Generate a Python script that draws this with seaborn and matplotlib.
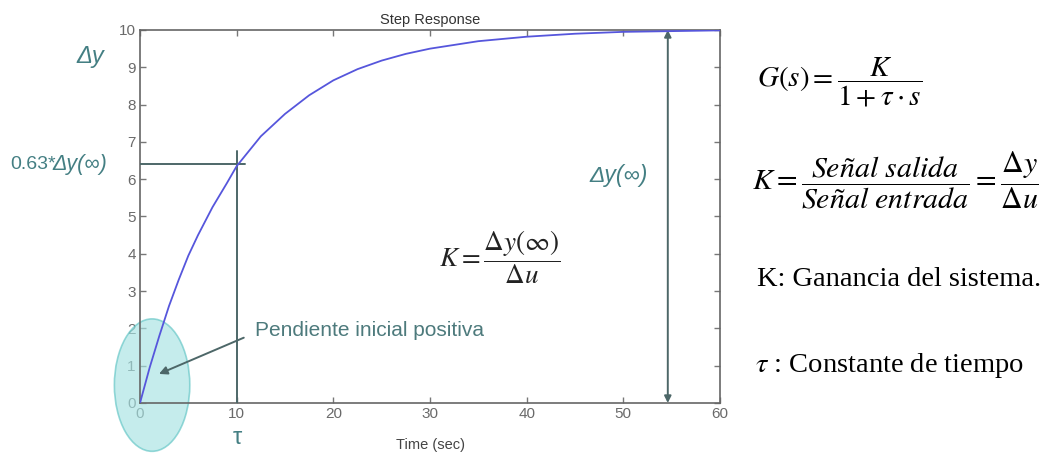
import numpy as np
import pandas as pd
import matplotlib
matplotlib.use("Agg")
import matplotlib.pyplot as plt
from matplotlib.patches import Ellipse
import seaborn as sns

# step response
time_sec = [0, 1, 2, 3, 4, 5, 6, 7.5, 9, 10, 12.5, 15, 17.5, 20, 22.5, 25, 27.5, 30,
            35, 40, 45, 50, 55, 60]
delta_y = [0, 0.95, 1.8, 2.6, 3.3, 3.95, 4.5, 5.25, 5.9, 6.35, 7.15, 7.75, 8.25, 8.65,
           8.95, 9.18, 9.36, 9.5, 9.7, 9.82, 9.9, 9.95, 9.97, 9.99]
y_ticks = list(range(0, 11))
x_ticks = [0, 10, 20, 30, 40, 50, 60]
tau = 10
level_63 = 6.4
y_final = 10

df = pd.DataFrame({"t": time_sec, "y": delta_y})

sns.set_style("ticks")
plt.rcParams["font.family"] = ["Liberation Sans", "DejaVu Sans"]
plt.rcParams["mathtext.fontset"] = "stix"

teal = "#447f83"
line_dark = "#4d6768"
tick_grey = "#6a6a6a"

fig = plt.figure(figsize=(10.53, 4.53), dpi=100)
ax = fig.add_axes([140 / 1053, 50 / 453, 580 / 1053, 373 / 453])

sns.lineplot(data=df, x="t", y="y", ax=ax, color="#5656dc", linewidth=1.3, zorder=4)

ax.set_xlim(0, 60)
ax.set_ylim(0, y_final)
ax.set_xticks(x_ticks)
ax.set_yticks(y_ticks)
ax.tick_params(direction="in", top=True, right=True, length=4, width=1,
               colors="#777777", labelcolor=tick_grey, labelsize=11, pad=3)
for s in ax.spines.values():
    s.set_color("#666666")
    s.set_linewidth(1.2)
ax.set_xlabel("Time (sec)", fontsize=10.5, color="#444444", labelpad=12)
ax.set_ylabel("")
ax.set_title("Step Response", fontsize=10.5, color="#333333", pad=4)

# 63% construction lines
ax.plot([0, tau + 0.9], [level_63, level_63], color=line_dark, lw=1.4, zorder=3)
ax.plot([tau, tau], [0, level_63 + 0.35], color=line_dark, lw=1.4, zorder=3)

# initial slope ellipse
ell = Ellipse((1.25, 0.48), 7.8, 3.55, facecolor="#a6e3e3", edgecolor="#5fc4c4",
              lw=1.2, alpha=0.65, clip_on=False, zorder=2)
ax.add_patch(ell)
ax.annotate("", xy=(1.7, 0.75), xytext=(11.0, 1.78),
            arrowprops=dict(arrowstyle="-|>", color=line_dark, lw=1.4,
                            mutation_scale=12), zorder=5)
ax.text(11.9, 1.95, "Pendiente inicial positiva", fontsize=15, color="#4d7a7c",
        va="center", ha="left")

# final value double arrow
ax.annotate("", xy=(54.6, y_final), xytext=(54.6, 0),
            arrowprops=dict(arrowstyle="<|-|>", color=line_dark, lw=1.4,
                            mutation_scale=10, shrinkA=0, shrinkB=0))
ax.text(46.5, 6.1, "Δy(∞)", fontsize=16.5, color=teal, style="italic",
        va="center", ha="left")

ax.text(37.2, 3.9, r"$K = \dfrac{\Delta y(\infty)}{\Delta u}$", fontsize=19.5,
        color="#222222", va="center", ha="center")

# labels outside the axes
fig.text(90 / 1053, 1 - 57 / 453, "Δy", fontsize=17, color=teal, style="italic",
         va="center", ha="center")
fig.text(10 / 1053, 1 - 164 / 453, "0.63*", fontsize=14, color=teal,
         va="center", ha="left")
fig.text(52 / 1053, 1 - 164 / 453, "Δy(∞)", fontsize=15.5, color=teal, style="italic",
         va="center", ha="left")
fig.text(237 / 1053, 1 - 438 / 453, "τ", fontsize=17, color=teal,
         va="center", ha="center")

# right side formulas
fig.text(757 / 1053, 1 - 82 / 453, r"$G(s) = \dfrac{K}{1 + \tau \cdot s}$",
         fontsize=21, color="black", va="center", ha="left")
fig.text(752 / 1053, 1 - 180 / 453,
         r"$K = \dfrac{\mathit{Señal\ salida}}{\mathit{Señal\ entrada}} = \dfrac{\Delta y}{\Delta u}$",
         fontsize=21.5, color="black", va="center", ha="left")
fig.text(757 / 1053, 1 - 280 / 453, "K: Ganancia del sistema.", fontsize=20.5,
         color="black", va="center", ha="left", family=["Liberation Serif"])
fig.text(755 / 1053, 1 - 365 / 453, r"$\tau$ : Constante de tiempo", fontsize=20.5,
         color="black", va="center", ha="left", family=["Liberation Serif"])

fig.savefig("out.png", dpi=100, facecolor="white")
